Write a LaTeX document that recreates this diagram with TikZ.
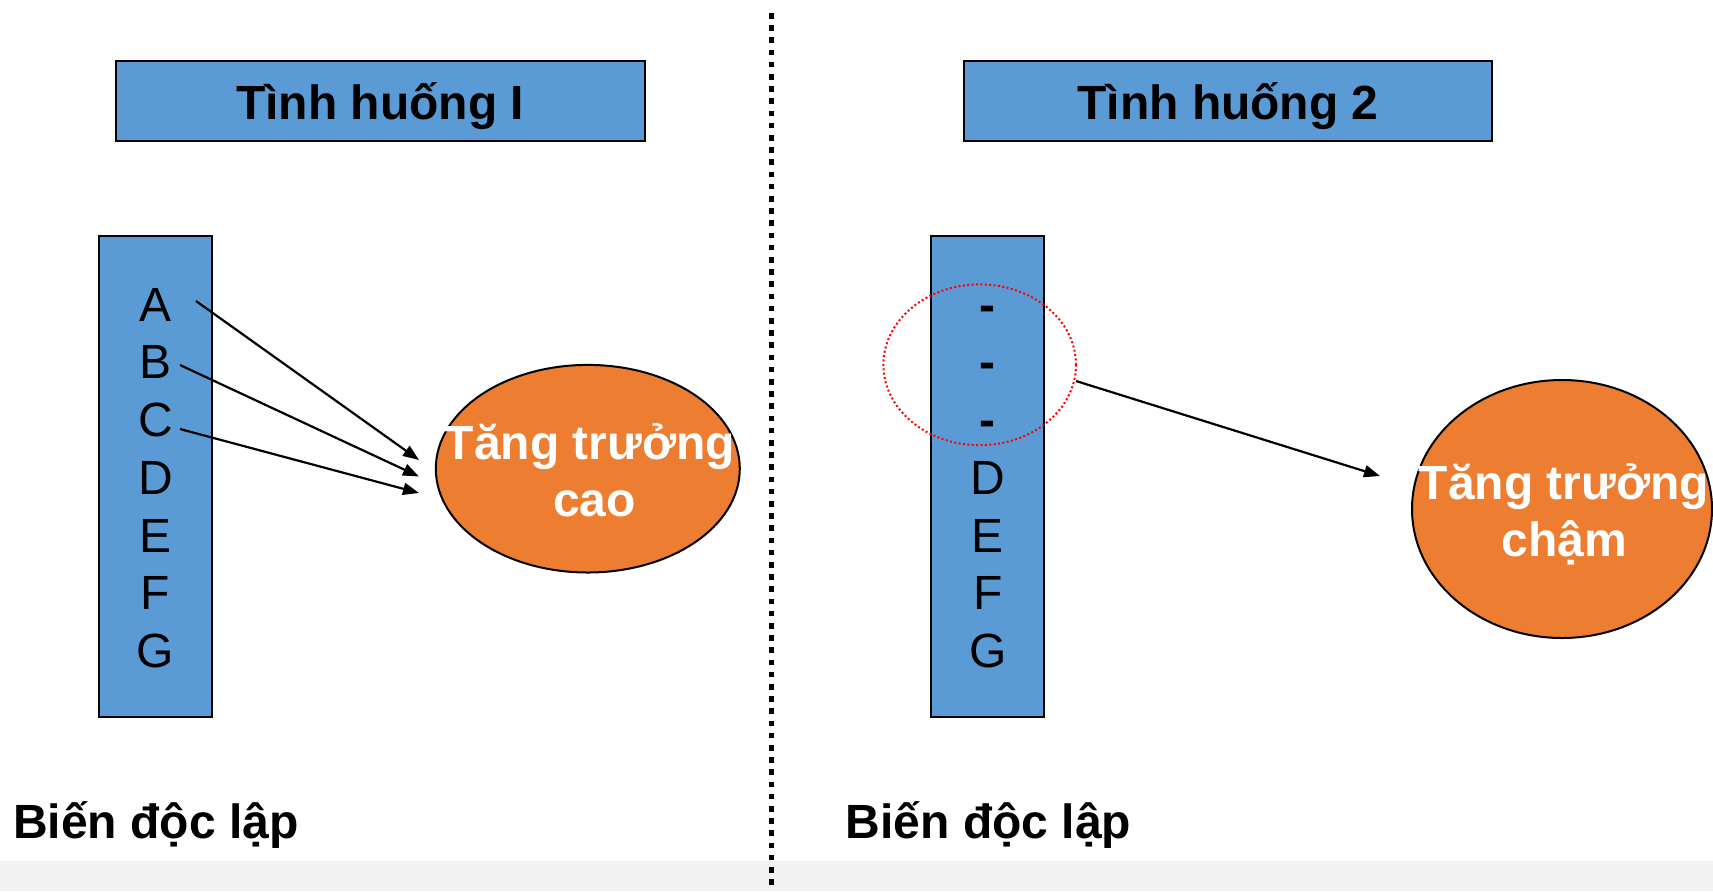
\documentclass[tikz,border=0pt]{standalone}
\usepackage{fontspec}
\setmainfont{Liberation Sans}
\usetikzlibrary{shapes.geometric,arrows.meta}
\definecolor{boxblue}{HTML}{5B9BD5}
\definecolor{ellorange}{HTML}{ED7D31}
\definecolor{bandgray}{HTML}{F2F2F2}
\begin{document}
\begin{tikzpicture}[x=0.5pt,y=-0.5pt,
  titlebox/.style={draw=black, line width=1pt, fill=boxblue, minimum width=264.4pt, minimum height=40pt,
    inner sep=0pt, font=\fontsize{24}{28.8}\selectfont\bfseries, text height=18.3pt, text depth=0pt},
  colbox/.style={draw=black, line width=1pt, fill=boxblue, minimum width=56.4pt, minimum height=240.3pt, inner sep=0pt},
  letter/.style={inner sep=0pt, anchor=base, font=\fontsize{24}{28.8}\selectfont},
  ell/.style={ellipse, draw=black, line width=1pt, fill=ellorange, inner sep=0pt},
  etxt/.style={inner sep=0pt, anchor=base, text=white, font=\fontsize{24}{28.8}\selectfont\bfseries},
  redring/.style={ellipse, draw=red, line width=1pt, dash pattern=on 1pt off 1.2pt, inner sep=0pt},
  arr/.style={-{Triangle[length=8pt,width=6pt]}, line width=1.1pt},
  divider/.style={line width=2.7pt, dash pattern=on 2.8pt off 3.3pt},
  bottomtxt/.style={inner sep=0pt, anchor=base west, font=\fontsize{24}{28.8}\selectfont\bfseries}]
\useasboundingbox (0,0) rectangle (1713,891);
% bottom band
\fill[bandgray] (0,861) rectangle (1713,891);
% divider
\coordinate (dtop) at (771.5,13);
\coordinate (dbot) at (771.5,891);
\draw[divider] (dtop) -- (dbot);
% titles
\node[titlebox] (t1) at (380.2,101) {Tình huống I};
\node[titlebox] (t2) at (1228,101) {Tình huống 2};
% left column
\node[colbox] (col1) at (155.7,476.4) {};
\node[letter] (lA) at (155.5,321.2) {A};
\node[letter] (lB) at (155.5,378.9) {B};
\node[letter] (lC) at (155.5,436.6) {C};
\node[letter] (lD) at (155.5,494.3) {D};
\node[letter] (lE) at (155.5,552.0) {E};
\node[letter] (lF) at (155.5,609.7) {F};
\node[letter] (lG) at (155.5,667.4) {G};
% right column
\node[colbox] (col2) at (987.5,476.4) {};
\node[letter,font=\fontsize{24}{28.8}\selectfont\bfseries] (rA) at (987.8,321.2) {-};
\node[letter,font=\fontsize{24}{28.8}\selectfont\bfseries] (rB) at (987.8,378.9) {-};
\node[letter,font=\fontsize{24}{28.8}\selectfont\bfseries] (rC) at (987.8,436.6) {-};
\node[letter] (rD) at (987.8,494.3) {D};
\node[letter] (rE) at (987.8,552.0) {E};
\node[letter] (rF) at (987.8,609.7) {F};
\node[letter] (rG) at (987.8,667.4) {G};
% red dotted ring
\node[redring, minimum width=96.3pt, minimum height=80.4pt] (ring) at (979.7,364.8) {};
% ellipses
\node[ell, minimum width=152pt, minimum height=103.8pt] (g1) at (587.8,468.7) {};
\node[etxt] (g1a) at (590,459) {Tăng trưởng};
\node[etxt] (g1b) at (594.5,516) {cao};
\node[ell, minimum width=150pt, minimum height=129pt] (g2) at (1562,509) {};
\node[etxt] (g2a) at (1564,499.3) {Tăng trưởng};
\node[etxt] (g2b) at (1564,556.7) {chậm};
% arrows
\coordinate (sA) at (196,301);
\coordinate (eA) at (419,460);
\coordinate (sB) at (180,365);
\coordinate (eB) at (419,476.5);
\coordinate (sC) at (180,429);
\coordinate (eC) at (419,493);
\coordinate (sR) at (1076,381);
\coordinate (eR) at (1380,476);
\draw[arr] (sA) -- (eA);
\draw[arr] (sB) -- (eB);
\draw[arr] (sC) -- (eC);
\draw[arr] (sR) -- (eR);
% bottom labels
\node[bottomtxt] (b1) at (12.8,838) {Biến độc lập};
\node[bottomtxt] (b2) at (845.3,838) {Biến độc lập};
\end{tikzpicture}
\end{document}
